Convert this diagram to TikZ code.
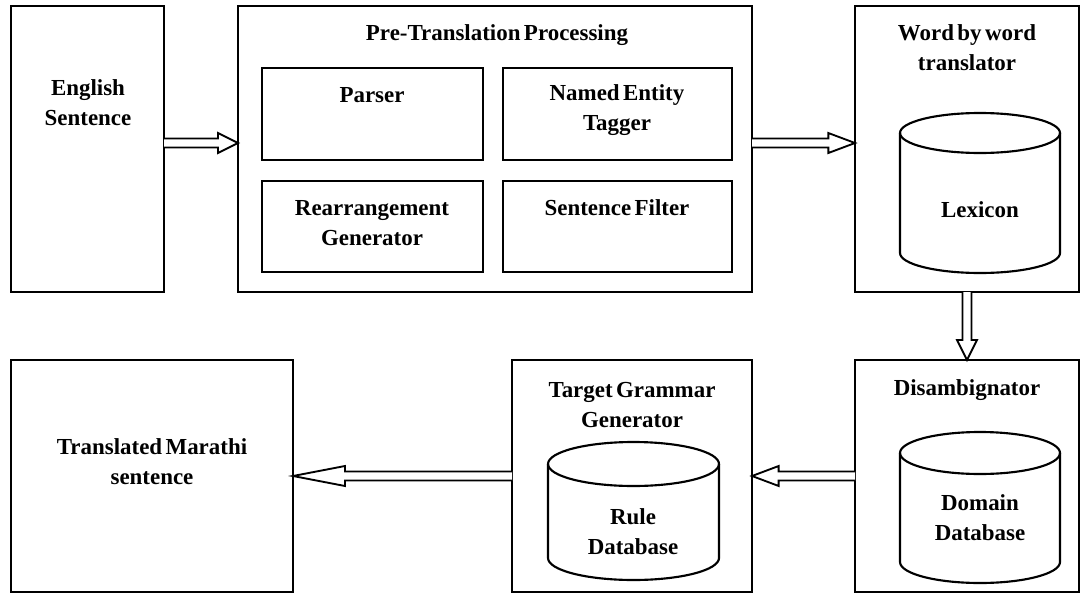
\documentclass[tikz,border=0pt]{standalone}
\usepackage{fontspec}
\setmainfont{Liberation Serif}[WordSpace={0.6}]
\usetikzlibrary{calc,fit}
\tikzset{
  box/.style={draw, line width=1.8pt, inner sep=0pt, outer sep=0pt, fill=none},
  txt/.style={font=\fontsize{17.2}{22.5}\selectfont\bfseries, align=center, inner sep=0pt},
  cylline/.style={draw, line width=1.6pt},
  arrowline/.style={draw, line width=1.4pt, fill=white, line join=miter},
}
\newcommand{\barrow}[3]{%
  \coordinate (bh) at ($(#3)!#1!(#2)$);
  \draw[arrowline] ($(#2)!3.4pt!90:(#3)$) -- ($(bh)!3.4pt!-90:(#2)$) -- ($(bh)!7.5pt!-90:(#2)$) -- (#3)
     -- ($(bh)!7.5pt!90:(#2)$) -- ($(bh)!3.4pt!90:(#2)$) -- ($(#2)!3.4pt!-90:(#3)$);
}
% cylinder: #1 left x, #2 right x, #3 top y, #4 bottom y, #5 half height of ellipse
\newcommand{\cyl}[5]{%
  \pgfmathsetmacro{\rx}{(#2-#1)/2}
  \draw[cylline] (#1,#3-#5) -- (#1,#4+#5) arc[start angle=180, end angle=360, x radius=\rx, y radius=#5]
    -- (#2,#3-#5) arc[start angle=0, end angle=180, x radius=\rx, y radius=#5];
  \draw[cylline] (#1,#3-#5) arc[start angle=180, end angle=360, x radius=\rx, y radius=#5];
}
\begin{document}
\begin{tikzpicture}[x=0.75pt, y=0.75pt]
\useasboundingbox (0,0) rectangle (1088,-596);
\fill[white] (0,0) rectangle (1088,-596);

% boxes
\node[box, fit={(11,-6) (164,-292)}] (eng) {};
\node[box, fit={(238,-6) (752,-292)}] (pre) {};
\node[box, fit={(262,-68) (483,-160)}] (parser) {};
\node[box, fit={(503,-68) (732,-160)}] (net) {};
\node[box, fit={(262,-181) (483,-272)}] (rearr) {};
\node[box, fit={(503,-181) (732,-272)}] (sfilt) {};
\node[box, fit={(855,-6) (1079,-292)}] (word) {};
\node[box, fit={(855,-360) (1079,-592)}] (disamb) {};
\node[box, fit={(512,-360) (752,-592)}] (tgg) {};
\node[box, fit={(11,-360) (293,-592)}] (trans) {};

% cylinders
\cyl{900}{1060}{-113}{-273}{20}
\cyl{900}{1060}{-432}{-583}{21}
\cyl{548}{719}{-442}{-580}{22}

% texts
\node[txt] (tEng) at (88,-103) {English\\Sentence};
\node[txt] (tPre) at (497,-35) {Pre-Translation Processing};
\node[txt] (tParser) at (372,-95) {Parser};
\node[txt] (tNet) at (617,-110) {Named Entity\\Tagger};
\node[txt] (tRearr) at (372,-223) {Rearrangement\\Generator};
\node[txt] (tSf) at (617,-208) {Sentence Filter};
\node[txt] (tWord) at (967,-48) {Word by word\\translator};
\node[txt] (tLex) at (980,-210) {Lexicon};
\node[txt] (tDis) at (967,-390) {Disambignator};
\node[txt] (tDom) at (980,-518) {Domain\\Database};
\node[txt] (tTgg) at (632,-405) {Target Grammar\\Generator};
\node[txt] (tRule) at (633,-532) {Rule\\Database};
\node[txt] (tTrans) at (152,-462) {Translated Marathi\\sentence};

% connectors
\coordinate (a1s) at ([yshift=4.5pt]eng.east);
\coordinate (a1e) at ([yshift=4.5pt]pre.west);
\coordinate (a2s) at ([yshift=4.5pt]pre.east);
\coordinate (a2e) at ([yshift=4.5pt]word.west);
\barrow{15pt}{a1s}{a1e}
\barrow{20pt}{a2s}{a2e}
\barrow{15pt}{word.south}{disamb.north}
\barrow{20pt}{disamb.west}{tgg.east}
\barrow{39pt}{tgg.west}{trans.east}
\end{tikzpicture}
\end{document}
